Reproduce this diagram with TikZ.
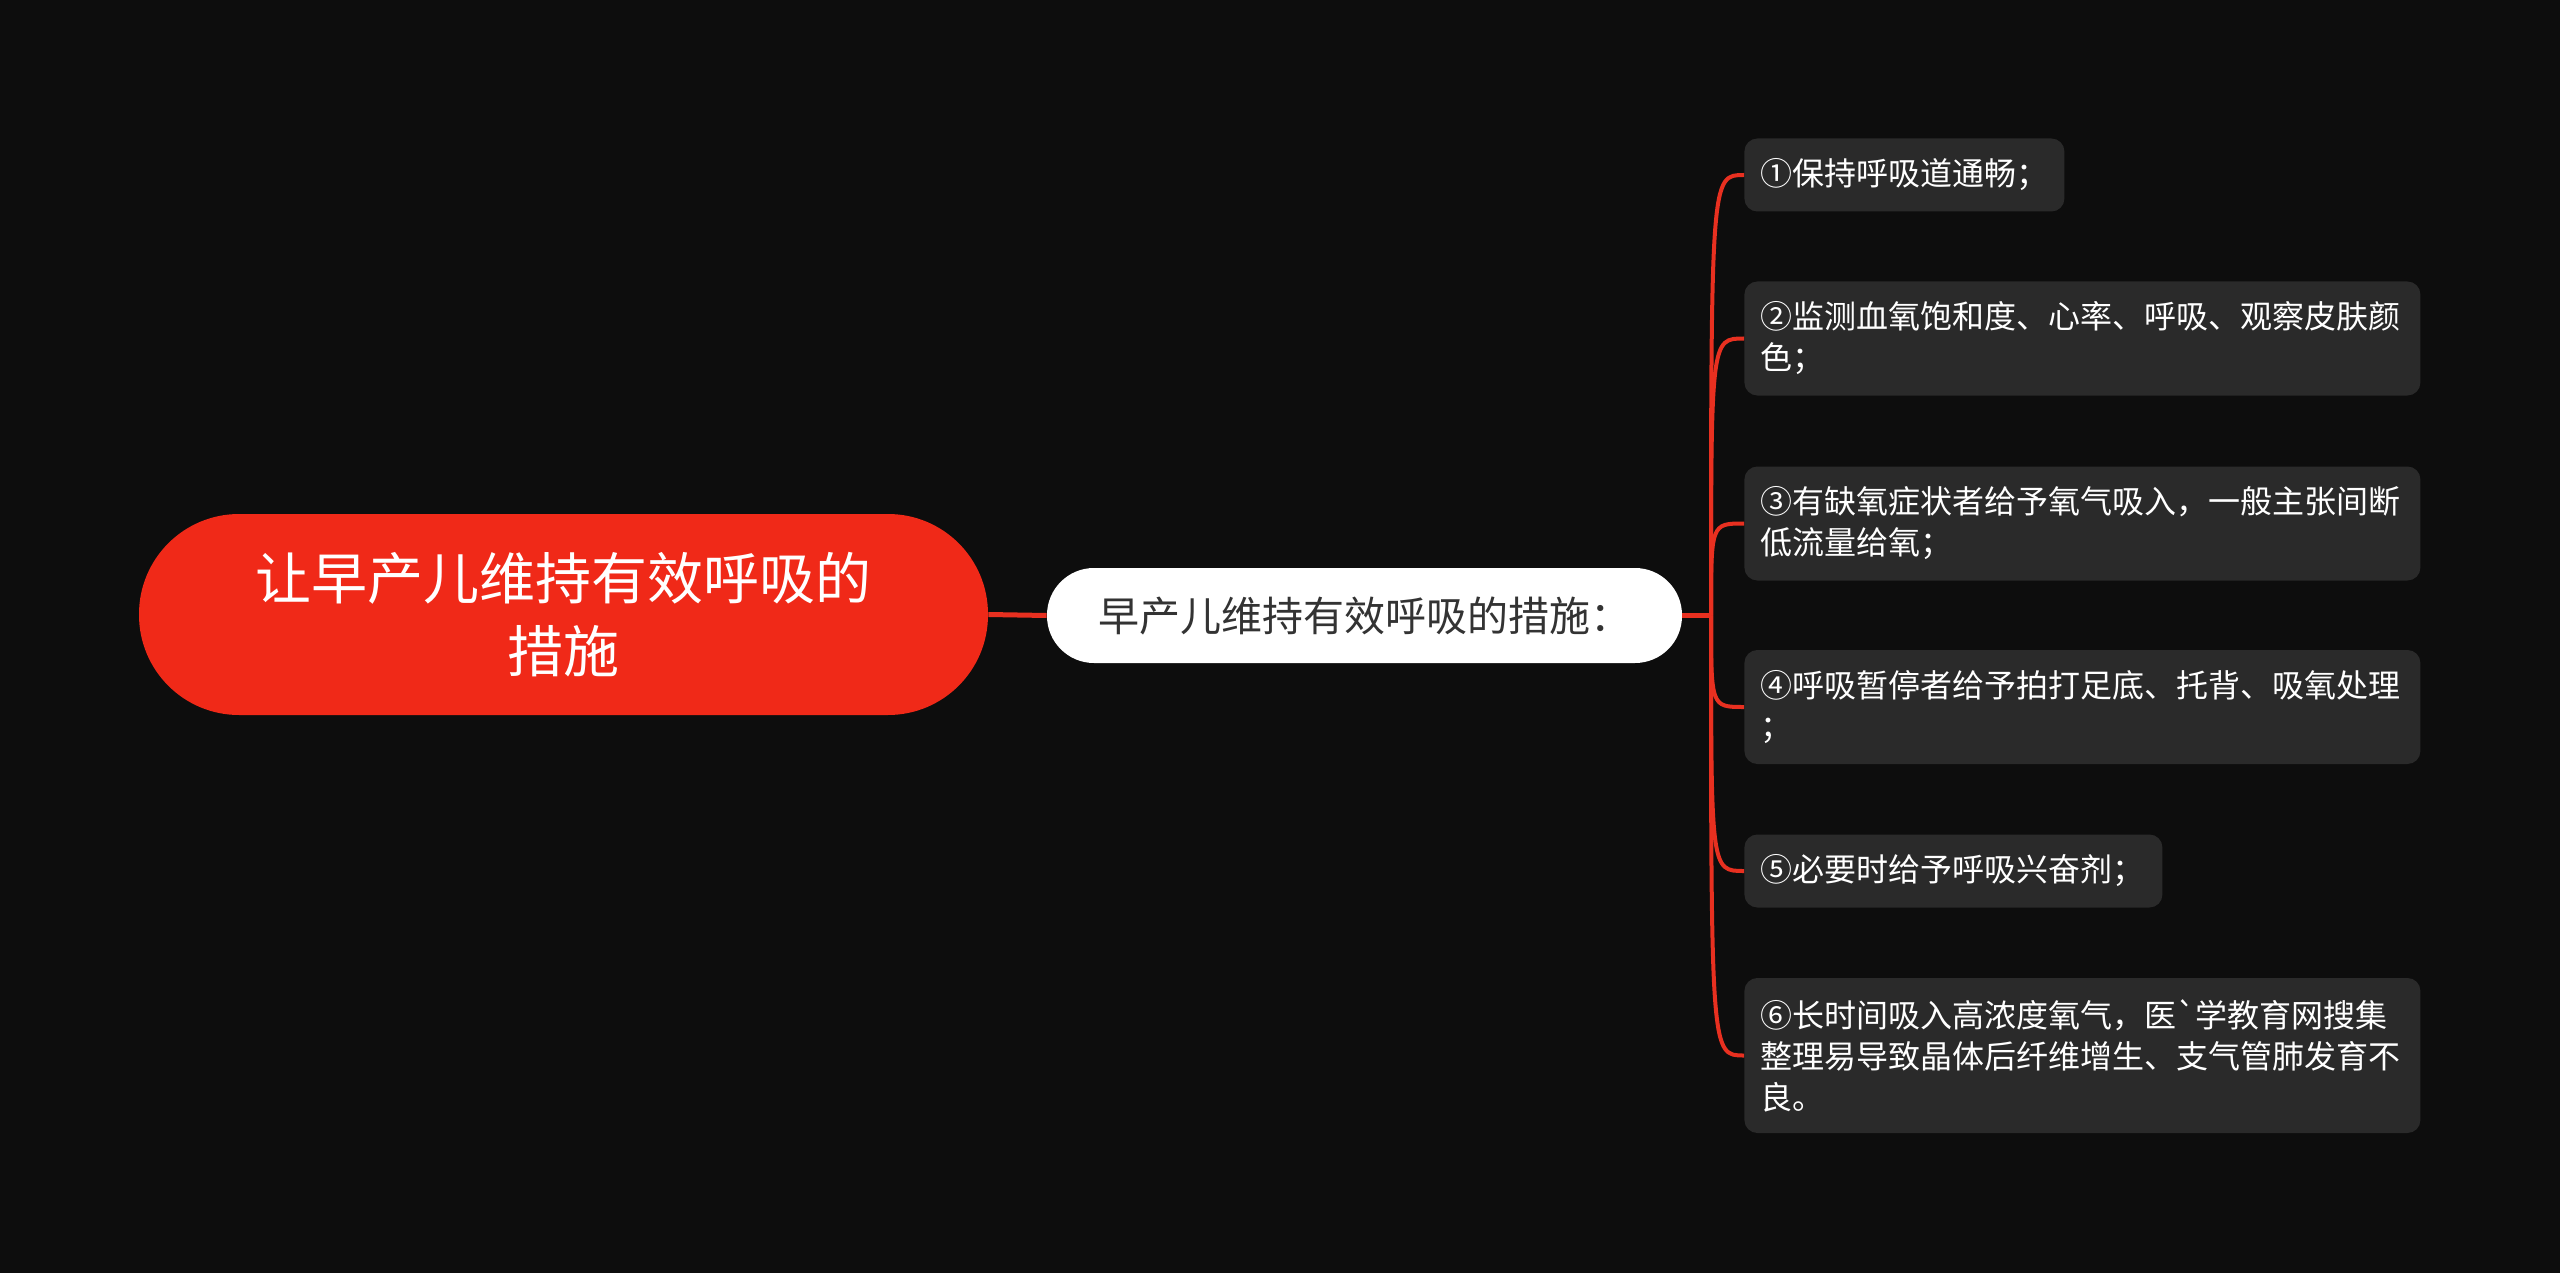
\documentclass[tikz,border=0pt]{standalone}
\usepackage{fontspec}
\setmainfont{Noto Sans CJK SC}
\definecolor{bg}{RGB}{13,13,13}
\definecolor{rootred}{RGB}{240,41,24}
\definecolor{linered}{RGB}{232,48,32}
\definecolor{boxgray}{RGB}{42,42,42}
\definecolor{midtext}{RGB}{51,51,51}
\begin{document}
\begin{tikzpicture}[x=0.5pt,y=-0.5pt,
  rootnode/.style={fill=rootred, rounded corners=50pt, minimum width=424.5pt, minimum height=100.5pt,
    text=white, align=center, font={\fontsize{28pt}{36.5pt}\selectfont}, inner sep=0pt},
  midnode/.style={fill=white, rounded corners=23.5pt, minimum width=317.5pt, minimum height=47.5pt,
    text=midtext, font={\fontsize{20.5pt}{26pt}\selectfont}, inner sep=0pt},
  leaf/.style={fill=boxgray, rounded corners=6.5pt, anchor=west, text=white, align=left,
    font={\fontsize{16pt}{20.5pt}\selectfont}, inner xsep=8pt, inner ysep=0pt},
  link/.style={draw=linered, line width=2.5pt},
  branch/.style={draw=linered, line width=2pt}]
\useasboundingbox[fill=bg] (0,0) rectangle (2560,1273);

\node[rootnode] (root) at (563.5,614.5) {让早产儿维持有效呼吸的\\措施};
\node[midnode] (mid) at (1364.5,615.5) {早产儿维持有效呼吸的措施：};
\coordinate (hub) at (1711,615.5);

\node[leaf, minimum height=36.5pt, text width=144pt] (c1) at (1744,175) {①保持呼吸道通畅；};
\node[leaf, minimum height=57pt, text width=322pt] (c2) at (1744,338.5) {②监测血氧饱和度、心率、呼吸、观察皮肤颜\\色；};
\node[leaf, minimum height=57pt, text width=322pt] (c3) at (1744,523.5) {③有缺氧症状者给予氧气吸入，一般主张间断\\低流量给氧；};
\node[leaf, minimum height=57pt, text width=322pt] (c4) at (1744,707) {④呼吸暂停者给予拍打足底、托背、吸氧处理\\；};
\node[leaf, minimum height=36.5pt, text width=193pt] (c5) at (1744,871) {⑤必要时给予呼吸兴奋剂；};
\node[leaf, minimum height=77.5pt, text width=322pt] (c6) at (1744,1055.5) {⑥长时间吸入高浓度氧气，医\textasciigrave 学教育网搜集\\整理易导致晶体后纤维增生、支气管肺发育不\\良。};

\draw[link] (root.east) -- (mid.west);
\draw[link] (mid.east) -- (hub);
\foreach \c in {c1,c2,c3,c4,c5,c6}{
  \draw[branch] (hub) .. controls (hub |- \c.west) .. (\c.west);
}
\end{tikzpicture}
\end{document}
